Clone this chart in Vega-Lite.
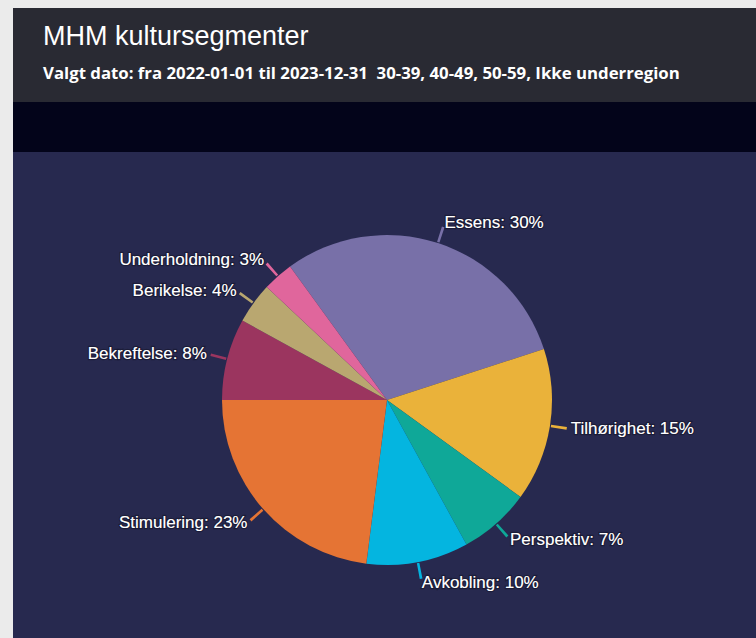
{
  "$schema": "https://vega.github.io/schema/vega-lite/v6.json",
  "background": "#ebebeb",
  "padding": {"left": 13, "top": 8, "right": 0, "bottom": 0},
  "spacing": 0,
  "config": {"view": {"stroke": null}, "concat": {"spacing": 0}},
  "datasets": {
    "segments": [
      {"idx": 1, "segment": "Essens", "value": 30},
      {"idx": 2, "segment": "Tilhørighet", "value": 15},
      {"idx": 3, "segment": "Perspektiv", "value": 7},
      {"idx": 4, "segment": "Avkobling", "value": 10},
      {"idx": 5, "segment": "Stimulering", "value": 23},
      {"idx": 6, "segment": "Bekreftelse", "value": 8},
      {"idx": 7, "segment": "Berikelse", "value": 4},
      {"idx": 8, "segment": "Underholdning", "value": 3}
    ]
  },
  "vconcat": [
    {
      "width": 743,
      "height": 94,
      "view": {"fill": "#292a33", "stroke": null},
      "title": {
        "text": "MHM kultursegmenter",
        "subtitle": "Valgt dato: fra 2022-01-01 til 2023-12-31\u00a0 30-39, 40-49, 50-59, Ikke underregion",
        "anchor": "start",
        "frame": "group",
        "orient": "top",
        "offset": -76,
        "dx": 30,
        "font": "Liberation Sans",
        "fontSize": 27,
        "fontWeight": "normal",
        "color": "#ffffff",
        "subtitleFont": "Open Sans",
        "subtitleFontSize": 16.8,
        "subtitleFontWeight": "bold",
        "subtitleColor": "#ffffff",
        "subtitlePadding": 15
      },
      "data": {"values": [{"a": 1}]},
      "mark": {"type": "point", "opacity": 0},
      "encoding": {}
    },
    {
      "width": 743,
      "height": 50,
      "view": {"fill": "#03041a", "stroke": null},
      "data": {"values": [{"a": 1}]},
      "mark": {"type": "point", "opacity": 0},
      "encoding": {}
    },
    {
      "width": 743,
      "height": 486,
      "view": {"fill": "#27294f", "stroke": null},
      "data": {"name": "segments"},
      "layer": [
        {
          "mark": {"type": "arc", "outerRadius": 165, "xOffset": 2.5, "yOffset": 5},
          "encoding": {
            "theta": {"field": "value", "type": "quantitative", "stack": true,
              "scale": {"domain": [0, 100], "range": [-0.6283, 5.6549]}},
            "order": {"field": "idx", "type": "quantitative"},
            "color": {"field": "segment", "type": "nominal", "legend": null,
              "scale": {
                "domain": ["Essens", "Tilhørighet", "Perspektiv", "Avkobling", "Stimulering", "Bekreftelse", "Berikelse", "Underholdning"],
                "range": ["#7870a8", "#eab23a", "#0fa898", "#04b5e0", "#e57434", "#9b355f", "#b9a770", "#e0669c"]
              }}
          }
        },
        {
          "transform": [
            {"window": [{"op": "sum", "field": "value", "as": "cum"}], "sort": [{"field": "idx"}], "frame": [null, 0]},
            {"calculate": "datum.cum - datum.value / 2", "as": "mid"},
            {"calculate": "datum.mid - 0.12", "as": "a0"},
            {"calculate": "datum.mid + 0.12", "as": "a1"},
            {"calculate": "datum.segment + ': ' + datum.value + '%'", "as": "label"}
          ],
          "layer": [
            {
              "mark": {"type": "arc", "radius": 182, "radius2": 166, "xOffset": 2.5, "yOffset": 5},
              "encoding": {
                "theta": {"field": "a0", "type": "quantitative", "stack": null,
                  "scale": {"domain": [0, 100], "range": [-0.6283, 5.6549]}},
                "theta2": {"field": "a1"},
                "color": {"field": "segment", "type": "nominal", "legend": null}
              }
            },
            {
              "transform": [{"filter": "datum.idx <= 4"}],
              "mark": {"type": "text", "radius": 186, "xOffset": 2.5, "yOffset": 5, "font": "Liberation Sans", "fontSize": 17, "baseline": "middle", "align": "left", "fill": "#ffffff", "stroke": "#15152a", "strokeWidth": 2.5, "strokeOpacity": 0.6},
              "encoding": {
                "theta": {"field": "mid", "type": "quantitative", "stack": null,
                  "scale": {"domain": [0, 100], "range": [-0.6283, 5.6549]}},
                "text": {"field": "label", "type": "nominal"}
              }
            },
            {
              "transform": [{"filter": "datum.idx > 4"}],
              "mark": {"type": "text", "radius": 186, "xOffset": 2.5, "yOffset": 5, "font": "Liberation Sans", "fontSize": 17, "baseline": "middle", "align": "right", "fill": "#ffffff", "stroke": "#15152a", "strokeWidth": 2.5, "strokeOpacity": 0.6},
              "encoding": {
                "theta": {"field": "mid", "type": "quantitative", "stack": null,
                  "scale": {"domain": [0, 100], "range": [-0.6283, 5.6549]}},
                "text": {"field": "label", "type": "nominal"}
              }
            },
            {
              "transform": [{"filter": "datum.idx <= 4"}],
              "mark": {"type": "text", "radius": 186, "xOffset": 2.5, "yOffset": 5, "font": "Liberation Sans", "fontSize": 17, "baseline": "middle", "align": "left", "fill": "#ffffff"},
              "encoding": {
                "theta": {"field": "mid", "type": "quantitative", "stack": null,
                  "scale": {"domain": [0, 100], "range": [-0.6283, 5.6549]}},
                "text": {"field": "label", "type": "nominal"}
              }
            },
            {
              "transform": [{"filter": "datum.idx > 4"}],
              "mark": {"type": "text", "radius": 186, "xOffset": 2.5, "yOffset": 5, "font": "Liberation Sans", "fontSize": 17, "baseline": "middle", "align": "right", "fill": "#ffffff"},
              "encoding": {
                "theta": {"field": "mid", "type": "quantitative", "stack": null,
                  "scale": {"domain": [0, 100], "range": [-0.6283, 5.6549]}},
                "text": {"field": "label", "type": "nominal"}
              }
            }
          ]
        }
      ]
    }
  ]
}
